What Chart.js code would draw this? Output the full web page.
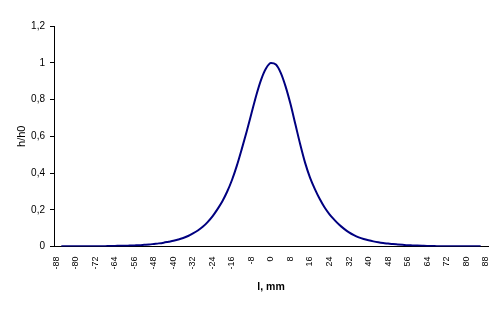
<!DOCTYPE html>
<html>
<head>
<meta charset="utf-8">
<script src="https://cdn.jsdelivr.net/npm/chart.js@4"></script>
<style>
  html, body { margin: 0; padding: 0; background: #fff; }
  #wrap { width: 502px; height: 316px; }
</style>
</head>
<body>
<div id="wrap"><canvas id="c" width="502" height="316"></canvas></div>
<script>
const categories = [-88,-86,-84,-82,-80,-78,-76,-74,-72,-70,-68,-66,-64,-62,-60,-58,-56,-54,-52,-50,-48,-46,-44,-42,-40,-38,-36,-34,-32,-30,-28,-26,-24,-22,-20,-18,-16,-14,-12,-10,-8,-6,-4,-2,0,2,4,6,8,10,12,14,16,18,20,22,24,26,28,30,32,34,36,38,40,42,44,46,48,50,52,54,56,58,60,62,64,66,68,70,72,74,76,78,80,82,84,86,88];
const ratioValues = [null,0.001,0.001,0.001,0.001,0.001,0.001,0.002,0.002,0.002,0.002,0.003,0.003,0.004,0.004,0.005,0.006,0.007,0.009,0.011,0.014,0.017,0.021,0.026,0.031,0.038,0.046,0.057,0.071,0.087,0.107,0.133,0.164,0.202,0.245,0.298,0.362,0.440,0.530,0.625,0.725,0.825,0.910,0.970,0.998,0.990,0.945,0.870,0.775,0.665,0.555,0.455,0.375,0.312,0.258,0.212,0.175,0.145,0.118,0.096,0.077,0.062,0.050,0.041,0.034,0.028,0.023,0.019,0.016,0.013,0.011,0.009,0.007,0.006,0.005,0.004,0.003,0.003,0.002,0.002,0.002,0.002,0.001,0.001,0.001,0.001,0.001,0.001,null];
const yTicks = [0, 0.2, 0.4, 0.6, 0.8, 1, 1.2];
const xLabelEvery = 4;
const xTitle = 'l, mm';
const yTitle = 'h/h0';

new Chart(document.getElementById('c'), {
  type: 'line',
  data: {
    labels: categories.map(String),
    datasets: [{
      data: ratioValues,
      borderColor: '#000080',
      borderWidth: 2,
      pointRadius: 0,
      fill: false,
      cubicInterpolationMode: 'monotone',
      spanGaps: false
    }]
  },
  options: {
    responsive: false,
    animation: false,
    devicePixelRatio: 1,
    layout: { padding: { left: 0, right: 14, top: 26, bottom: 0 } },
    plugins: { legend: { display: false }, tooltip: { enabled: false } },
    scales: {
      x: {
        type: 'category',
        offset: true,
        grid: { display: false, drawTicks: false },
        border: { display: true, color: '#000', width: 1 },
        ticks: {
          autoSkip: false,
          maxRotation: 90,
          minRotation: 90,
          padding: 10,
          color: '#000',
          font: { family: 'Liberation Sans, Arial, sans-serif', size: 9 },
          callback: function(v, i) { return i % xLabelEvery === 0 ? categories[i] : null; }
        },
        title: {
          display: true,
          text: xTitle,
          color: '#000',
          font: { family: 'Liberation Sans, Arial, sans-serif', size: 10.5, weight: 'bold', lineHeight: 1.2 },
          padding: { top: 0, bottom: 23 }
        },
        afterFit: function(s) { s.height = 69.5; s.paddingLeft = 0; s.paddingRight = 0; }
      },
      y: {
        min: 0,
        max: 1.2,
        afterBuildTicks: function(s) { s.ticks = yTicks.map(v => ({ value: v })); },
        grid: { display: true, drawOnChartArea: false, drawTicks: true, tickLength: 4, color: '#000' },
        border: { display: true, color: '#000', width: 1 },
        ticks: {
          padding: 5,
          color: '#000',
          font: { family: 'Liberation Sans, Arial, sans-serif', size: 10 },
          callback: function(v) { return String(Math.round(v * 10) / 10).replace('.', ','); }
        },
        title: {
          display: true,
          text: yTitle,
          color: '#000',
          font: { family: 'Liberation Sans, Arial, sans-serif', size: 11, lineHeight: 1.2 },
          padding: { top: 15.5, bottom: 0 }
        },
        afterFit: function(s) { s.width = 54; }
      }
    }
  }
});
</script>
</body>
</html>
